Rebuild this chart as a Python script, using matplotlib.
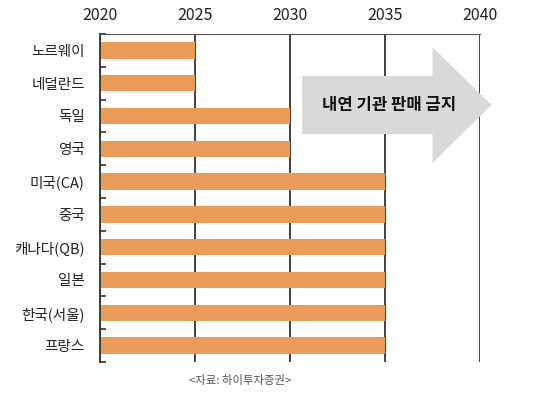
import matplotlib.pyplot as plt
from matplotlib.patches import Polygon

plt.rcParams['font.family'] = ['Noto Sans CJK KR', 'DejaVu Sans']

countries = ['노르웨이', '네덜란드', '독일', '영국', '미국(CA)', '중국', '캐나다(QB)', '일본', '한국(서울)', '프랑스']
ban_year = [2025, 2025, 2030, 2030, 2035, 2035, 2035, 2035, 2035, 2035]
x_ticks = [2020, 2025, 2030, 2035, 2040]
start = 2020

fig = plt.figure(figsize=(5.37, 3.98), dpi=100)
ax = fig.add_axes([0.1862, 0.0905, 0.7077, 0.8241])

ypos = list(range(len(countries)))
ax.barh(ypos, [y - start for y in ban_year], left=start, height=0.5,
        color='#EA9B57', zorder=2)

ax.set_xlim(2020, 2040)
ax.set_ylim(len(countries) - 0.5, -0.5)
ax.set_yticks(ypos)
ax.set_yticklabels(countries, fontsize=10.5, color='#222222')
ax.set_yticks([i + 0.5 for i in range(-1, len(countries))], minor=True)
ax.tick_params(axis='y', which='major', length=0, pad=11)
ax.tick_params(axis='y', which='minor', direction='in', length=4, width=1.2, color='#333333')

ax.xaxis.tick_top()
ax.set_xticks(x_ticks)
ax.tick_params(axis='x', length=0, pad=7, labelsize=11.5, labelcolor='#222222')
ax.grid(axis='x', color='#333333', linewidth=1.3, zorder=1)

for s in ['right', 'bottom']:
    ax.spines[s].set_visible(False)
ax.spines['left'].set_color('#333333')
ax.spines['left'].set_linewidth(1.3)
ax.spines['top'].set_color('#555555')
ax.spines['top'].set_linewidth(0.8)

# arrow "내연 기관 판매 금지"
x0, xh, xt = 2030.63, 2037.5, 2040.6
bt, bb = 0.78, 2.55
ht, hb = -0.1, 3.43
yc = (bt + bb) / 2
arrow = Polygon([(x0, bt), (xh, bt), (xh, ht), (xt, yc), (xh, hb), (xh, bb), (x0, bb)],
                closed=True, facecolor='#D9D9D9', edgecolor='none', zorder=3, clip_on=False)
ax.add_patch(arrow)
ax.text(2035.2, yc, '내연 기관 판매 금지', ha='center', va='center',
        fontsize=12, fontweight='bold', color='#111111', zorder=4)

fig.text(0.447, 0.045, '<자료: 하이투자증권>', ha='center', va='center',
         fontsize=8.2, color='#555555')

fig.savefig('out.png', dpi=100)
